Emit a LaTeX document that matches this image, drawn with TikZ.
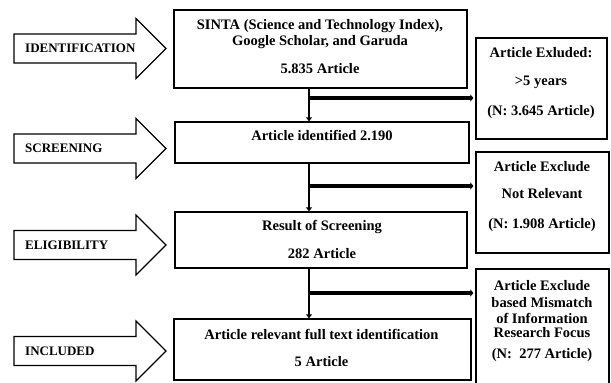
\documentclass[tikz,border=0pt]{standalone}
\usepackage{fontspec}
\setmainfont{Liberation Serif}
\usetikzlibrary{arrows.meta}
\begin{document}
\begin{tikzpicture}[x=1pt,y=-1pt,
 box/.style={draw,line width=1.3pt,inner sep=0pt},
 txt/.style={font=\bfseries\fontsize{14.5}{16}\selectfont,inner sep=0pt,anchor=center},
 lab/.style={font=\bfseries\fontsize{13}{15}\selectfont,inner sep=0pt,anchor=west},
 stage/.style={draw,line width=1.1pt,fill=white,line join=miter},
 vlink/.style={line width=2pt,-{Triangle[length=4pt,width=6pt]}},
 hlink/.style={line width=4pt,-{Triangle[length=3pt,width=7pt]},shorten >=2pt}
]
\useasboundingbox (0,0) rectangle (611,383);
% stage arrows
\newcommand{\stagearrow}[1]{%
 \draw[stage] (14,#1-14.5) -- (136,#1-14.5) -- (136,#1-30) -- (166,#1) -- (136,#1+30) -- (136,#1+14.5) -- (14,#1+14.5) -- cycle;}
\stagearrow{48.5}
\stagearrow{148.5}
\stagearrow{245}
\stagearrow{351}
\node[lab] (l1) at (25,48) {IDENTIFICATION};
\node[lab] (l2) at (25,148) {SCREENING};
\node[lab] (l3) at (25,245) {ELIGIBILITY};
\node[lab] (l4) at (25,351) {INCLUDED};
% main boxes
\node[box,minimum width=293pt,minimum height=78pt] (b1) at (320.5,49) {};
\node[box,minimum width=294pt,minimum height=41pt] (b2) at (322,142.5) {};
\node[box,minimum width=292pt,minimum height=56pt] (b3) at (321,240) {};
\node[box,minimum width=297pt,minimum height=61pt] (b4) at (322.5,349.5) {};
% right boxes
\node[box,minimum width=131pt,minimum height=101pt] (r1) at (541.5,88.5) {};
\node[box,minimum width=133pt,minimum height=101pt] (r2) at (542.5,202.5) {};
\node[box,minimum width=133pt,minimum height=121pt] (r3) at (542.5,329.5) {};
% texts main
\node[txt] (t11) at (320,26) {SINTA (Science and Technology Index),};
\node[txt] (t12) at (320,42) {Google Scholar, and Garuda};
\node[txt] (t13) at (320,69) {5.835 Article};
\node[txt] (t21) at (322,135) {Article identified 2.190};
\node[txt] (t31) at (322,227) {Result of Screening};
\node[txt] (t32) at (322,254) {282 Article};
\node[txt] (t41) at (321.5,334) {Article relevant full text identification};
\node[txt] (t42) at (321.5,362) {5 Article};
% texts right
\node[txt] (u11) at (541,53) {Article Exluded:};
\node[txt] (u12) at (541,82) {>5 years};
\node[txt] (u13) at (541,112) {(N: 3.645 Article)};
\node[txt] (u21) at (542,167) {Article Exclude};
\node[txt] (u22) at (542,194) {Not Relevant};
\node[txt] (u23) at (542,225) {(N: 1.908 Article)};
\node[txt] (u31) at (542,286) {Article Exclude};
\node[txt] (u32) at (542,303) {based Mismatch};
\node[txt] (u33) at (542,318) {of Information};
\node[txt] (u34) at (542,333) {Research Focus};
\node[txt] (u35) at (542,355) {(N:\ \ 277 Article)};
% connectors
\coordinate (j1) at (309,98);
\coordinate (j2) at (309,186);
\coordinate (j3) at (309,293);
\draw[vlink] (j1 |- b1.south) -- (j1 |- b2.north);
\draw[vlink] (j2 |- b2.south) -- (j2 |- b3.north);
\draw[vlink] (j3 |- b3.south) -- (j3 |- b4.north);
\draw[hlink] (j1) -- (j1 -| r1.west);
\draw[hlink] (j2) -- (j2 -| r2.west);
\draw[hlink] (j3) -- (j3 -| r3.west);
\end{tikzpicture}
\end{document}
